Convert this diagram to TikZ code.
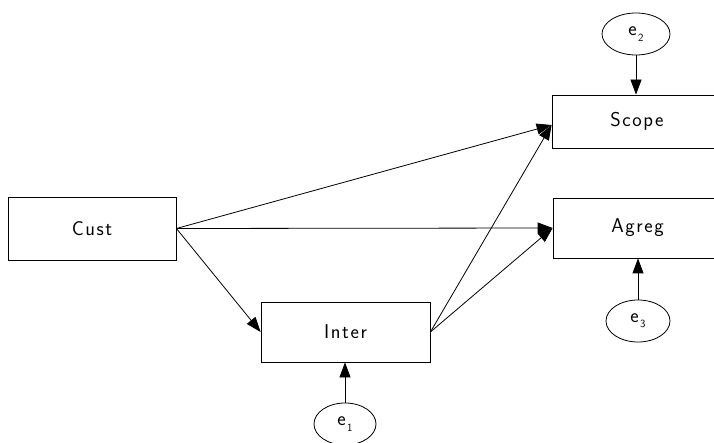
\documentclass[tikz,border=0pt]{standalone}
\usepackage{fontspec}
\newfontfamily\lblfont[LetterSpace=8]{Latin Modern Sans}
\usetikzlibrary{arrows.meta,shapes.geometric}
\begin{document}
\begin{tikzpicture}[x=1pt,y=-1pt,
  varbox/.style={draw, line width=0.8pt, rectangle, inner sep=0pt,
    font=\fontsize{20}{24}\lblfont},
  errnode/.style={draw, line width=0.8pt, ellipse, inner sep=0pt,
    font=\sffamily\fontsize{20}{24}\selectfont},
  arrowline/.style={line width=0.8pt, -{Triangle[length=15pt,width=11pt]}}
]
\useasboundingbox (0,0) rectangle (714,443);
\node[varbox, minimum width=168pt, minimum height=63pt] (cust) at (92,228.5) {Cust};
\node[varbox, minimum width=170pt, minimum height=53pt] (scope) at (637,121.5) {Scope};
\node[varbox, minimum width=169pt, minimum height=60pt] (agreg) at (637.5,228) {Agreg};
\node[varbox, minimum width=169pt, minimum height=60pt] (inter) at (345.5,332) {Inter};
\node[errnode, minimum width=62pt, minimum height=42pt] (e1) at (345,424) {e\kern1.5pt\raisebox{-0.6ex}{\fontsize{11}{12}\selectfont 1}};
\node[errnode, minimum width=68pt, minimum height=42pt] (e2) at (636,34) {e\kern1.5pt\raisebox{-0.6ex}{\fontsize{11}{12}\selectfont 2}};
\node[errnode, minimum width=64pt, minimum height=42pt] (e3) at (638,321) {e\kern1.5pt\raisebox{-0.6ex}{\fontsize{11}{12}\selectfont 3}};
\draw[arrowline] (cust.east) -- ([yshift=-3.5pt]scope.west);
\draw[arrowline] (cust.east) -- (agreg.west);
\draw[arrowline] (cust.east) -- (inter.west);
\draw[arrowline] (inter.east) -- ([yshift=-3.5pt]scope.west);
\draw[arrowline] (inter.east) -- (agreg.west);
\draw[arrowline] (e2.south) -- (e2.south |- scope.north);
\draw[arrowline] (e3.north) -- (e3.north |- agreg.south);
\draw[arrowline] (e1.north) -- (e1.north |- inter.south);
\end{tikzpicture}
\end{document}
